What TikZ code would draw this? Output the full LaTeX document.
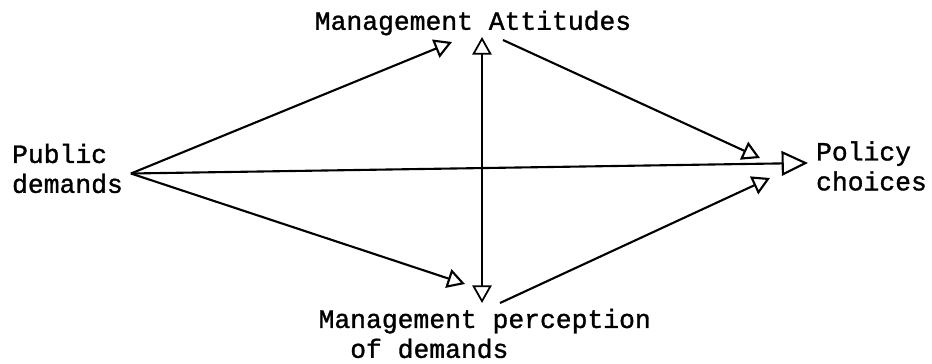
\documentclass[tikz,border=0pt]{standalone}
\usepackage{fontspec}
\newfontfamily\typer{Liberation Mono}[FakeBold=1.2]
\usepackage{tikz}
\usetikzlibrary{arrows.meta, positioning, calc}
\tikzset{
  lbl/.style={inner sep=1pt, font=\typer\fontsize{15}{17}\selectfont},
  arrow/.style={-{Triangle[open, length=10pt, width=11pt]}, line width=1.2pt, color=black},
  bigarrow/.style={-{Triangle[open, length=15pt, width=14pt]}, line width=1.2pt, color=black},
  twoarrow/.style={{Triangle[open, length=10pt, width=11pt]}-{Triangle[open, length=10pt, width=11pt]}, line width=1pt, color=black}
}
\begin{document}
\begin{tikzpicture}
  \useasboundingbox (0,0) rectangle (18.64,7.26);

  % Nodes
  \node[lbl, align=left, anchor=west] (pub) at (0.2,3.89) {Public\\demands};
  \node[lbl] (att) at (9.46,6.80) {Management Attitudes};
  \node[lbl, align=left, anchor=west] (pol) at (16.28,3.94) {Policy\\choices};
  \node[lbl, align=left, anchor=west] (per) at (6.33,0.59) {Management perception\\\hspace*{1.2em}of demands};

  % Arrow ends
  \coordinate (hub) at ([shift={(0.12,-0.10)}]pub.east);
  \coordinate (attL) at (9.04,6.42);
  \coordinate (attT) at (9.64,6.52);
  \coordinate (attR) at (10.06,6.46);
  \coordinate (perL) at (9.30,1.58);
  \coordinate (perB) at (9.64,1.20);
  \coordinate (perR) at (10.00,1.20);
  \coordinate (polA) at (15.20,4.10);
  \coordinate (polM) at (16.16,4.00);
  \coordinate (polB) at (15.40,3.70);

  % Connections
  \draw[arrow] (hub) -- (attL);
  \draw[arrow] (hub) -- (perL);
  \draw[bigarrow] (hub) -- (polM);
  \draw[twoarrow] (perB) -- (attT);
  \draw[arrow] (attR) -- (polA);
  \draw[arrow] (perR) -- (polB);

\end{tikzpicture}
\end{document}
